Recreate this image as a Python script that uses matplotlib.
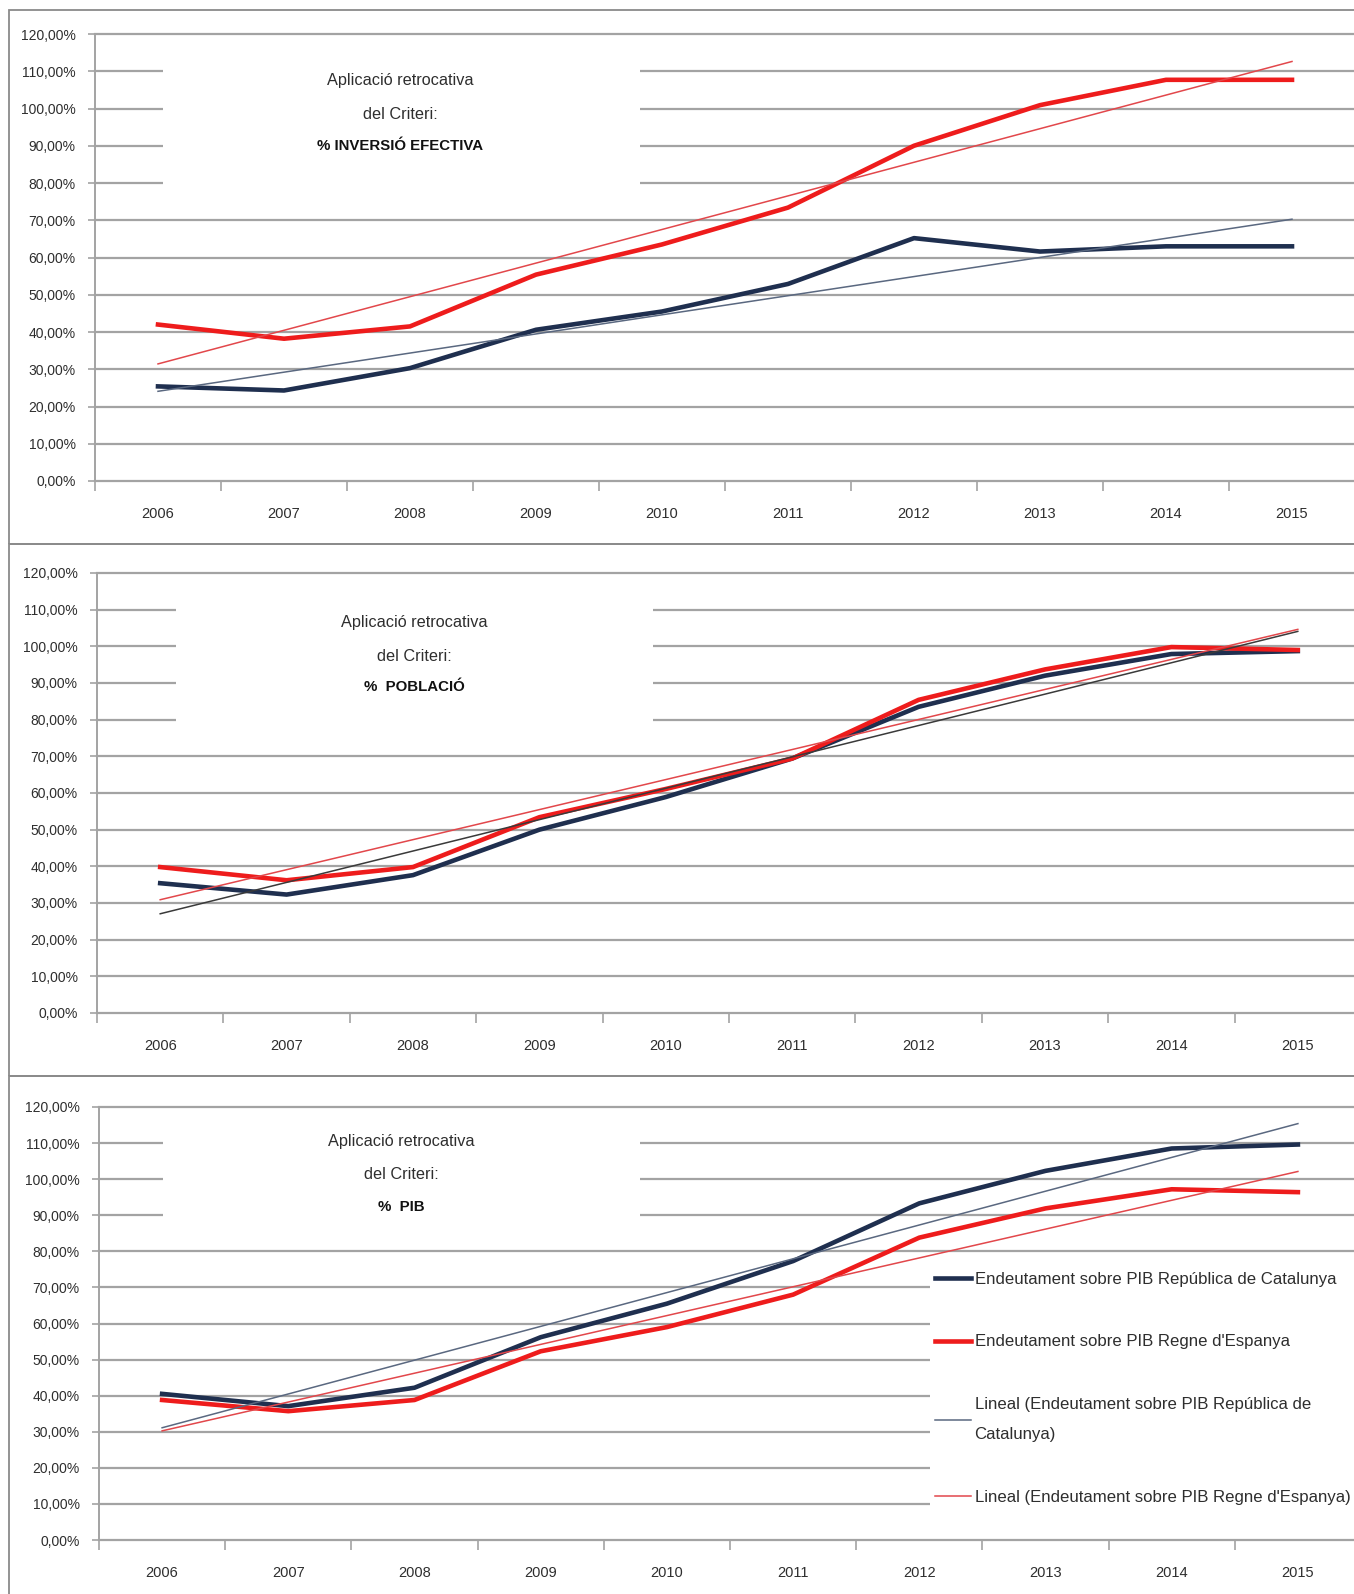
import numpy as np
import matplotlib
matplotlib.use('Agg')
import matplotlib.pyplot as plt
import matplotlib.transforms as mtransforms
from matplotlib.patches import Rectangle
from matplotlib.ticker import FuncFormatter

# ---------------- data ----------------
years = ['2006', '2007', '2008', '2009', '2010', '2011', '2012', '2013', '2014', '2015']

# Panel 1: criteri % INVERSIÓ EFECTIVA
cat_inversio = [25.4, 24.3, 30.3, 40.6, 45.5, 52.9, 65.2, 61.6, 63.0, 63.0]
esp_inversio = [42.0, 38.2, 41.5, 55.4, 63.5, 73.4, 90.0, 100.9, 107.7, 107.7]

# Panel 2: criteri % POBLACIÓ
cat_poblacio = [35.4, 32.3, 37.6, 50.0, 58.9, 69.4, 83.5, 92.0, 97.9, 98.7]
esp_poblacio = [39.8, 36.2, 39.8, 53.4, 61.1, 69.4, 85.4, 93.7, 99.8, 99.0]

# Panel 3: criteri % PIB
cat_pib = [40.5, 37.1, 42.2, 56.2, 65.5, 77.3, 93.3, 102.3, 108.5, 109.6]
esp_pib = [38.8, 35.7, 38.8, 52.3, 59.0, 68.0, 83.8, 91.9, 97.2, 96.4]

criteris = ['% INVERSIÓ EFECTIVA', '%  POBLACIÓ', '%  PIB']
text_lines = ['Aplicació retrocativa', 'del Criteri:']

legend_labels = ['Endeutament sobre PIB República de Catalunya',
                 'Endeutament sobre PIB Regne d\'Espanya',
                 'Lineal (Endeutament sobre PIB República de\nCatalunya)',
                 'Lineal (Endeutament sobre PIB Regne d\'Espanya)']

y_ticks = list(range(0, 121, 10))

# ---------------- style ----------------
plt.rcParams['font.family'] = ['Liberation Sans', 'DejaVu Sans']

W, H = 1354, 1594
fig = plt.figure(figsize=(W / 100, H / 100), dpi=100)

NAVY = '#1f2f4f'
RED = '#ee1c1c'
RED_T = '#e2474b'
GRID = '#a3a3a3'
TXT = '#2e2e2e'

# panel frames (figure pixel coords: x0, y_top, x1, y_bottom)
frames = [(9, 10, 1362, 544), (9, 544, 1362, 1076), (9, 1076, 1362, 1602)]
for (x0, yt, x1, yb) in frames:
    fig.add_artist(Rectangle((x0 / W, 1 - yb / H), (x1 - x0) / W, (yb - yt) / H,
                             transform=fig.transFigure, fill=False,
                             ec='#8a8a8a', lw=1.3))

# axes geometry in pixels: left spine x, 120% y, 0% y, category spacing
geoms = [(95, 34, 481, 126.0), (97, 573, 1013, 126.4), (99, 1107, 1540, 126.2)]

panels = [
    dict(cat=cat_inversio, esp=esp_inversio, crit=criteris[0],
         box=(163, 640, 75.5, 115), tx=400, ty=[107.5, 98.5, 90.0], tcol='#5a6880'),
    dict(cat=cat_poblacio, esp=esp_poblacio, crit=criteris[1],
         box=(176, 653, 75.5, 115), tx=414, ty=[106.4, 97.3, 88.8], tcol='#3a3a3a'),
    dict(cat=cat_pib, esp=esp_pib, crit=criteris[2],
         box=(163, 640, 85.5, 115), tx=401, ty=[110.4, 101.2, 92.2], tcol='#5a6880'),
]

x = np.arange(len(years))
axes = []
for geom, p in zip(geoms, panels):
    left, ytop, ybot, sp = geom
    width = sp * len(years)
    ax = fig.add_axes([left / W, 1 - ybot / H, width / W, (ybot - ytop) / H])
    axes.append(ax)
    ax.set_xlim(-0.5, len(years) - 0.5)
    ax.set_ylim(0, 120)
    ax.set_axisbelow(True)

    # gridlines
    ax.set_yticks(y_ticks)
    ax.yaxis.grid(True, color=GRID, lw=1.6)
    for gl in ax.get_ygridlines():
        gl.set_clip_on(False)
    ax.yaxis.set_major_formatter(FuncFormatter(lambda v, pos: f'{v:.2f}'.replace('.', ',') + '%'))
    ax.tick_params(axis='y', length=5, width=1.2, color=GRID, pad=9,
                   labelsize=10, labelcolor=TXT)

    ax.set_xticks(x)
    ax.set_xticklabels(years)
    ax.set_xticks(np.arange(-0.5, len(years), 1.0), minor=True)
    ax.tick_params(axis='x', which='major', length=0, pad=18.5, labelsize=10.5, labelcolor=TXT)
    ax.tick_params(axis='x', which='minor', length=7, width=1.2, color=GRID)

    for s in ['top', 'right']:
        ax.spines[s].set_visible(False)
    for s in ['left', 'bottom']:
        ax.spines[s].set_color(GRID)
        ax.spines[s].set_linewidth(1.4)

    # white text box interrupting the gridlines
    bx0, bx1, by0, by1 = p['box']
    ax.add_patch(Rectangle(((bx0 - left) / width, by0 / 120), (bx1 - bx0) / width,
                           (by1 - by0) / 120, transform=ax.transAxes,
                           fc='white', ec='none', zorder=1))
    txf = (p['tx'] - left) / width
    btr = mtransforms.blended_transform_factory(ax.transAxes, ax.transData)
    ax.text(txf, p['ty'][0], text_lines[0], ha='center', va='center',
            fontsize=11.7, color=TXT, transform=btr, zorder=3)
    ax.text(txf, p['ty'][1], text_lines[1], ha='center', va='center',
            fontsize=11.7, color=TXT, transform=btr, zorder=3)
    ax.text(txf, p['ty'][2], p['crit'], ha='center', va='center',
            fontsize=10.8, color='#111111', fontweight='bold', transform=btr, zorder=3)

    # trendlines (linear fit, like Excel "Lineal")
    kc = np.polyfit(x, p['cat'], 1)
    ke = np.polyfit(x, p['esp'], 1)
    tc, = ax.plot(x, np.polyval(kc, x), color=p['tcol'], lw=1.1, zorder=2.5)
    te, = ax.plot(x, np.polyval(ke, x), color=RED_T, lw=1.1, zorder=2.5)

    lc, = ax.plot(x, p['cat'], color=NAVY, lw=3.3, zorder=2, solid_joinstyle='round')
    le, = ax.plot(x, p['esp'], color=RED, lw=3.3, zorder=2.2, solid_joinstyle='round')
    p['handles'] = [lc, le, tc, te]

# legend on the third panel
ax3 = axes[2]
h = panels[2]['handles']
leg = ax3.legend(h, legend_labels, loc='upper left',
                 bbox_to_anchor=((930 - 99) / (126.2 * 10), 75.8 / 120),
                 frameon=True, facecolor='white', edgecolor='none', framealpha=1,
                 fancybox=False, fontsize=12.1, handlelength=2.15, handletextpad=0.2,
                 labelspacing=2.85, borderpad=0.3, borderaxespad=0)
for t in leg.get_texts():
    t.set_color(TXT)
    t.set_linespacing(2.25)

fig.savefig('out.png', dpi=100, facecolor='white')
